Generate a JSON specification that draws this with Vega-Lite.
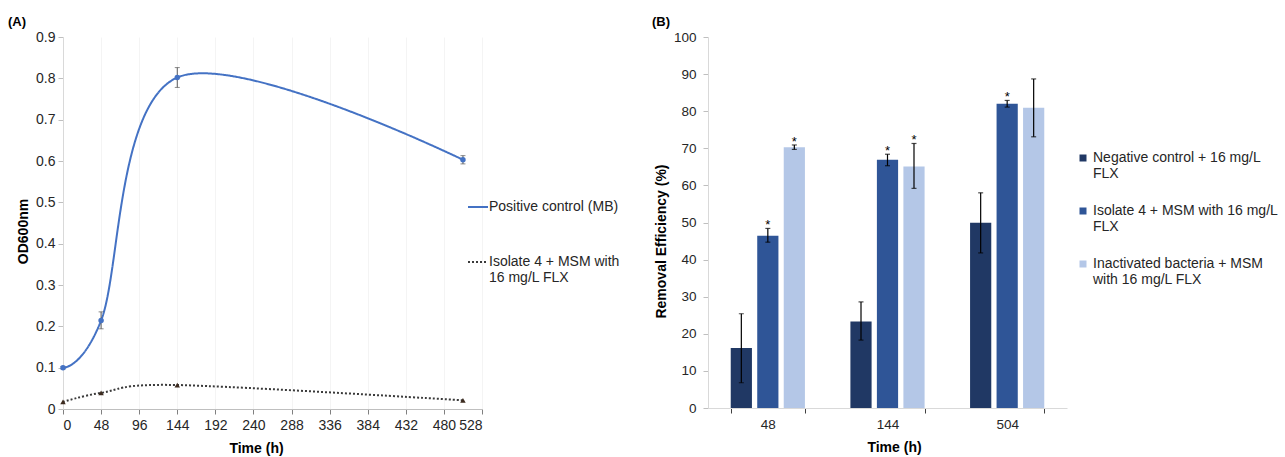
{
  "$schema": "https://vega.github.io/schema/vega-lite/v6.json",
  "padding": {"left": 8, "top": 16, "right": 5, "bottom": 5},
  "config": {
    "font": "Liberation Sans",
    "view": {"stroke": null},
    "axis": {"labelFont": "Liberation Sans", "titleFont": "Liberation Sans", "labelColor": "#262626", "titleColor": "#000000", "titleFontWeight": "bold", "titleFontSize": 14, "labelFontSize": 14, "domainColor": "#d9d9d9", "tickColor": "#bfbfbf", "grid": false},
    "legend": {"labelFont": "Liberation Sans", "labelFontSize": 14, "labelColor": "#262626", "padding": 0},
    "style": {"guide-label": {"lineHeight": 16}},
    "title": {"font": "Liberation Sans", "fontSize": 13, "fontWeight": "bold", "anchor": "start", "frame": "group", "color": "#000000"}
  },
  "spacing": 32,
  "resolve": {
    "scale": {"fill": "independent", "stroke": "independent", "strokeDash": "independent", "shape": "independent"},
    "legend": {"fill": "independent", "stroke": "independent", "strokeDash": "independent", "shape": "independent"}
  },
  "hconcat": [
    {
      "title": {"text": "(A)", "dx": -55, "offset": 1},
      "width": 419,
      "height": 372,
      "data": {"values": [
        {"series": "Positive control (MB)", "time": 0, "od": 0.100, "lo": 0.097, "hi": 0.103},
        {"series": "Positive control (MB)", "time": 48, "od": 0.214, "lo": 0.194, "hi": 0.235},
        {"series": "Positive control (MB)", "time": 144, "od": 0.802, "lo": 0.778, "hi": 0.826},
        {"series": "Positive control (MB)", "time": 504, "od": 0.603, "lo": 0.593, "hi": 0.613},
        {"series": "Isolate 4 + MSM with 16 mg/L FLX", "time": 0, "od": 0.017, "lo": null, "hi": null},
        {"series": "Isolate 4 + MSM with 16 mg/L FLX", "time": 48, "od": 0.039, "lo": null, "hi": null},
        {"series": "Isolate 4 + MSM with 16 mg/L FLX", "time": 144, "od": 0.058, "lo": null, "hi": null},
        {"series": "Isolate 4 + MSM with 16 mg/L FLX", "time": 504, "od": 0.021, "lo": null, "hi": null}
      ]},
      "encoding": {
        "x": {"field": "time", "type": "quantitative", "scale": {"domain": [0, 528], "nice": false},
          "axis": {"values": [0, 48, 96, 144, 192, 240, 288, 336, 384, 432, 480, 528], "title": "Time (h)", "titleX": 193, "grid": true, "gridColor": "#f4f4f4", "tickSize": 5, "labelPadding": 4, "titlePadding": 9, "domainColor": "#bfbfbf", "tickColor": "#808080"}},
        "y": {"field": "od", "type": "quantitative", "scale": {"domain": [0, 0.9], "nice": false},
          "axis": {"values": [0, 0.1, 0.2, 0.3, 0.4, 0.5, 0.6, 0.7, 0.8, 0.9], "format": ".1~f", "title": "OD600nm", "titleY": 194, "tickSize": 5, "labelPadding": 3, "titlePadding": 5}}
      },
      "layer": [
        {
          "mark": {"type": "line", "interpolate": "cardinal", "strokeWidth": 2},
          "encoding": {
            "stroke": {"field": "series", "type": "nominal",
              "scale": {"domain": ["Positive control (MB)", "Isolate 4 + MSM with 16 mg/L FLX"], "range": ["#4472c4", "#3a3a3a"]},
              "legend": {"title": null, "orient": "none", "legendX": 404, "legendY": 159, "symbolType": "stroke", "symbolSize": 400, "symbolStrokeWidth": 2, "labelOffset": 0, "rowPadding": 37, "labelLimit": 0,
                "labelExpr": "datum.label == 'Isolate 4 + MSM with 16 mg/L FLX' ? ['Isolate 4 + MSM with', '16 mg/L FLX'] : datum.label"}},
            "strokeDash": {"field": "series", "type": "nominal",
              "scale": {"domain": ["Positive control (MB)", "Isolate 4 + MSM with 16 mg/L FLX"], "range": [[1, 0], [2, 2]]},
              "legend": {"title": null, "orient": "none", "legendX": 404, "legendY": 159, "symbolType": "stroke", "symbolSize": 400, "symbolStrokeWidth": 2, "labelOffset": 0, "rowPadding": 37, "labelLimit": 0,
                "labelExpr": "datum.label == 'Isolate 4 + MSM with 16 mg/L FLX' ? ['Isolate 4 + MSM with', '16 mg/L FLX'] : datum.label"}}
          }
        },
        {
          "mark": {"type": "rule", "color": "#595959", "strokeWidth": 1},
          "encoding": {"y": {"field": "lo", "type": "quantitative"}, "y2": {"field": "hi"}}
        },
        {
          "mark": {"type": "tick", "orient": "horizontal", "color": "#595959", "thickness": 1, "size": 5},
          "encoding": {"y": {"field": "lo", "type": "quantitative"}}
        },
        {
          "mark": {"type": "tick", "orient": "horizontal", "color": "#595959", "thickness": 1, "size": 5},
          "encoding": {"y": {"field": "hi", "type": "quantitative"}}
        },
        {
          "transform": [{"filter": "datum.series == 'Positive control (MB)'"}],
          "mark": {"type": "point", "filled": true, "opacity": 1, "shape": "circle", "size": 30, "color": "#4472c4"},
          "encoding": {}
        },
        {
          "transform": [{"filter": "datum.series == 'Isolate 4 + MSM with 16 mg/L FLX'"}],
          "mark": {"type": "point", "filled": true, "opacity": 1, "shape": "triangle-up", "size": 30, "color": "#3d2b1f"},
          "encoding": {}
        }
      ]
    },
    {
      "title": {"text": "(B)", "dx": -56, "offset": 1},
      "width": 359,
      "height": 371,
      "data": {"values": [
        {"time": "48", "group": "Negative control + 16 mg/L FLX", "value": 16.2, "lo": 6.8, "hi": 25.4, "sig": ""},
        {"time": "48", "group": "Isolate 4 + MSM with 16 mg/L FLX", "value": 46.4, "lo": 44.7, "hi": 48.4, "sig": "*"},
        {"time": "48", "group": "Inactivated bacteria + MSM with 16 mg/L FLX", "value": 70.3, "lo": 69.7, "hi": 70.9, "sig": "*"},
        {"time": "144", "group": "Negative control + 16 mg/L FLX", "value": 23.3, "lo": 18.3, "hi": 28.6, "sig": ""},
        {"time": "144", "group": "Isolate 4 + MSM with 16 mg/L FLX", "value": 66.9, "lo": 65.3, "hi": 68.4, "sig": "*"},
        {"time": "144", "group": "Inactivated bacteria + MSM with 16 mg/L FLX", "value": 65.1, "lo": 59.2, "hi": 71.3, "sig": "*"},
        {"time": "504", "group": "Negative control + 16 mg/L FLX", "value": 49.9, "lo": 41.8, "hi": 58.0, "sig": ""},
        {"time": "504", "group": "Isolate 4 + MSM with 16 mg/L FLX", "value": 82.0, "lo": 81.1, "hi": 82.9, "sig": "*"},
        {"time": "504", "group": "Inactivated bacteria + MSM with 16 mg/L FLX", "value": 80.9, "lo": 73.1, "hi": 88.7, "sig": ""}
      ]},
      "encoding": {
        "x": {"field": "time", "type": "nominal", "sort": ["48", "144", "504"], "scale": {"paddingInner": 0.38, "paddingOuter": 0.19},
          "axis": {"labelAngle": 0, "title": "Time (h)", "titleX": 186, "tickBand": "extent", "tickSize": 5, "labelPadding": 4, "titlePadding": 10, "domainColor": "#d9d9d9", "tickColor": "#404040", "labelFontSize": 13.5}},
        "xOffset": {"field": "group", "type": "nominal", "sort": ["Negative control + 16 mg/L FLX", "Isolate 4 + MSM with 16 mg/L FLX", "Inactivated bacteria + MSM with 16 mg/L FLX"], "scale": {"paddingInner": 0.2}},
        "y": {"field": "value", "type": "quantitative", "scale": {"domain": [0, 100], "nice": false},
          "axis": {"values": [0, 10, 20, 30, 40, 50, 60, 70, 80, 90, 100], "title": "Removal Efficiency (%)", "titleY": 204, "tickSize": 5, "labelPadding": 7, "titlePadding": 5, "labelFontSize": 13.5}}
      },
      "layer": [
        {
          "mark": {"type": "bar"},
          "encoding": {
            "fill": {"field": "group", "type": "nominal",
              "scale": {"domain": ["Negative control + 16 mg/L FLX", "Isolate 4 + MSM with 16 mg/L FLX", "Inactivated bacteria + MSM with 16 mg/L FLX"], "range": ["#203864", "#2f5597", "#b4c7e7"]},
              "legend": {"title": null, "orient": "none", "legendX": 368, "legendY": 114, "symbolType": "square", "symbolSize": 49, "symbolStrokeWidth": 0, "labelOffset": 3, "rowPadding": 23, "labelLimit": 0,
                "labelExpr": "datum.label == 'Negative control + 16 mg/L FLX' ? ['Negative control + 16 mg/L', 'FLX'] : datum.label == 'Isolate 4 + MSM with 16 mg/L FLX' ? ['Isolate 4 + MSM with 16 mg/L', 'FLX'] : ['Inactivated bacteria + MSM', 'with 16 mg/L FLX']"}}
          }
        },
        {
          "mark": {"type": "rule", "color": "#000000", "strokeWidth": 1.2},
          "encoding": {"y": {"field": "lo", "type": "quantitative"}, "y2": {"field": "hi"}}
        },
        {
          "mark": {"type": "tick", "color": "#000000", "thickness": 1.2, "size": 5},
          "encoding": {"y": {"field": "lo", "type": "quantitative"}}
        },
        {
          "mark": {"type": "tick", "color": "#000000", "thickness": 1.2, "size": 5},
          "encoding": {"y": {"field": "hi", "type": "quantitative"}}
        },
        {
          "mark": {"type": "text", "fontSize": 13, "baseline": "alphabetic", "dy": 1, "color": "#000000"},
          "encoding": {"y": {"field": "hi", "type": "quantitative"}, "text": {"field": "sig"}}
        }
      ]
    }
  ]
}
